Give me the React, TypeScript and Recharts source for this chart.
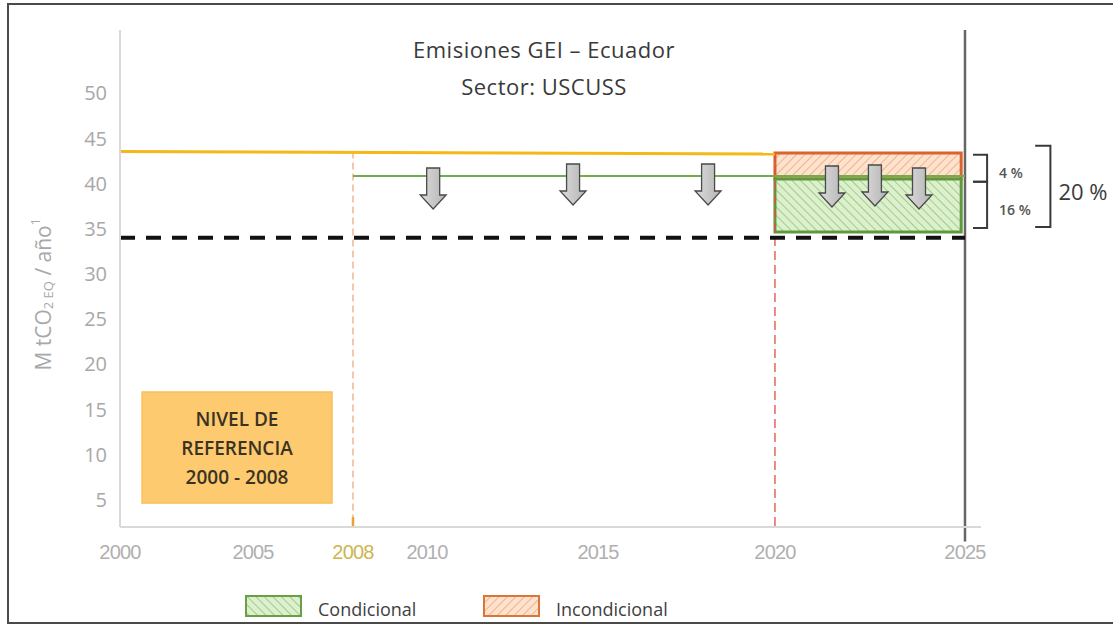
import React from 'react';
import {
  ComposedChart,
  XAxis,
  YAxis,
  Line,
  Scatter,
  ReferenceArea,
  ReferenceLine,
  Legend,
} from 'recharts';

// ---------- axes ----------
const X_TICKS = [2000, 2005, 2008, 2010, 2015, 2020, 2025];
const Y_TICKS = [5, 10, 15, 20, 25, 30, 35, 40, 45, 50];
const X_DOMAIN = [2000, 2025.42];
const Y_DOMAIN = [2, 57];
const HIGHLIGHT_TICK = 2008;

// The original drawing uses a hand-spaced (non-uniform) time axis.
const AXIS_KNOT_YEARS = [2000, 2005, 2008, 2010, 2015, 2020, 2025, 2025.42];
const AXIS_KNOT_FRACTIONS = [0, 0.1545, 0.2706, 0.3566, 0.5552, 0.7607, 0.9814, 1];

// ---------- series ----------
const referenceLevel = [
  { year: 2000, value: 43.55 },
  { year: 2020, value: 43.28 },
];
const projectedLevel = [
  { year: 2008, value: 40.84 },
  { year: 2025, value: 40.84 },
];
const targetLevel = [
  { year: 2000, value: 34.0 },
  { year: 2025, value: 34.0 },
];
const incondicionalBand = { from: 2020, to: 2024.9, low: 40.51, high: 43.39 };
const condicionalBand = { from: 2020, to: 2024.9, low: 34.64, high: 40.51 };
const reductionArrows = [
  { year: 2010.18, top: 41.73 },
  { year: 2014.27, top: 42.17 },
  { year: 2018.11, top: 42.17 },
  { year: 2021.5, top: 41.95 },
  { year: 2022.63, top: 42.06 },
  { year: 2023.79, top: 41.73 },
];
const MILESTONE_REF_END = 2008;
const MILESTONE_START = 2020;
const MILESTONE_END = 2025;

const referenceBoxLines = ['NIVEL DE', 'REFERENCIA', '2000 - 2008'];
const referenceBoxExtent = { from: 2000.83, to: 2007.37, low: 4.65, high: 16.94 };

const bracketLabels = ['4 %', '16 %', '20 %'];
const bracketLevels = [
  { top: 43.2, bottom: 40.2 },
  { top: 40.2, bottom: 35.1 },
  { top: 44.2, bottom: 35.2 },
];
const bracketYears = [
  { x1: 2025.21, x2: 2025.58 },
  { x1: 2025.21, x2: 2025.58 },
  { x1: 2026.84, x2: 2027.24 },
];

const TITLE_LINES = ['Emisiones GEI \u2013 Ecuador', 'Sector: USCUSS'];
const LEGEND_ITEMS = [
  { name: 'Condicional', pattern: 'hatchGreen', stroke: '#6a9f45' },
  { name: 'Incondicional', pattern: 'hatchOrange', stroke: '#d9773a' },
];

// ---------- custom piecewise scale ----------
function makeAxisScale(): any {
  let dom: number[] = [X_DOMAIN[0], X_DOMAIN[1]];
  let rng: number[] = [0, 1];
  const frac = (v: number) => {
    const ys = AXIS_KNOT_YEARS;
    const fs = AXIS_KNOT_FRACTIONS;
    const n = ys.length;
    let i = 0;
    if (v <= ys[0]) i = 0;
    else if (v >= ys[n - 1]) i = n - 2;
    else {
      while (i < n - 2 && v > ys[i + 1]) i++;
    }
    const t = (v - ys[i]) / (ys[i + 1] - ys[i]);
    return fs[i] + t * (fs[i + 1] - fs[i]);
  };
  const scale: any = (v: any) => rng[0] + frac(Number(v)) * (rng[1] - rng[0]);
  scale.domain = (d?: any) => {
    if (d === undefined) return dom.slice();
    dom = Array.from(d as number[]);
    return scale;
  };
  scale.range = (r?: any) => {
    if (r === undefined) return rng.slice();
    rng = Array.from(r as number[]);
    return scale;
  };
  scale.copy = () => {
    const s = makeAxisScale();
    s.domain(dom);
    s.range(rng);
    return s;
  };
  scale.ticks = () => X_TICKS.slice();
  scale.tickFormat = () => (v: any) => String(v);
  scale.invert = (px: number) => {
    const f = (px - rng[0]) / (rng[1] - rng[0]);
    const ys = AXIS_KNOT_YEARS;
    const fs = AXIS_KNOT_FRACTIONS;
    let i = 0;
    while (i < fs.length - 2 && f > fs[i + 1]) i++;
    return ys[i] + ((f - fs[i]) / (fs[i + 1] - fs[i])) * (ys[i + 1] - ys[i]);
  };
  return scale;
}
const xScale = makeAxisScale();

// ---------- renderers ----------
const XTick = (props: any) => {
  const { x, y, payload } = props;
  const hl = payload.value === HIGHLIGHT_TICK;
  return (
    <text
      x={x}
      y={y}
      dy={32}
      textAnchor="middle"
      fill={hl ? '#cdb552' : '#b0b0b0'}
      fontFamily="'Liberation Sans', Arial, sans-serif"
      fontSize={20}
      letterSpacing={-0.8}
    >
      {payload.value}
    </text>
  );
};

const YLabel = (props: any) => {
  const vb = props.viewBox || { x: 0, y: 30, width: 120, height: 497 };
  const cx = vb.x + 43;
  const cy = vb.y + vb.height / 2 + 16;
  return (
    <text
      x={cx}
      y={cy}
      transform={`rotate(-90 ${cx} ${cy})`}
      textAnchor="middle"
      dominantBaseline="central"
      fill="#a8a8a8"
      fontFamily="'Open Sans', sans-serif"
      fontSize={21}
    >
      M tCO
      <tspan fontSize={13} dy={5}>
        2 EQ
      </tspan>
      <tspan dy={-5}> / año</tspan>
      <tspan fontSize={12} dy={-8}>
        1
      </tspan>
    </text>
  );
};

const ArrowShape = (props: any) => {
  const { cx, cy } = props;
  if (cx == null || cy == null) return null;
  const L = 41;
  const sw = 6.5;
  const hw = 13;
  const hh = 14;
  const d = `M ${cx - sw} ${cy} H ${cx + sw} V ${cy + L - hh} H ${cx + hw} L ${cx} ${cy + L} L ${cx - hw} ${cy + L - hh} H ${cx - sw} Z`;
  return <path d={d} fill="url(#arrowGrad)" stroke="#4a4a4a" strokeWidth={1.3} strokeLinejoin="miter" />;
};

const ReferenceBoxShape = (props: any) => {
  const { x, y, width, height } = props;
  const cx = x + width / 2;
  const cy = y + height / 2;
  return (
    <g>
      <rect x={x} y={y} width={width} height={height} fill="#fdca70" stroke="#f7c059" strokeWidth={1.5} />
      {referenceBoxLines.map((line, i) => (
        <text
          key={line}
          x={cx}
          y={cy + (i - 1) * 29 + 7}
          textAnchor="middle"
          fill="#3b3322"
          fontFamily="'Open Sans', sans-serif"
          fontWeight={600}
          fontSize={19}
        >
          {line}
        </text>
      ))}
    </g>
  );
};

const makeBracketShape = (label: string, big: boolean) => (props: any) => {
  const { x, y, width, height } = props;
  const d = `M ${x} ${y} H ${x + width} V ${y + height} H ${x}`;
  return (
    <g>
      <path d={d} fill="none" stroke="#3a3a3a" strokeWidth={2} />
      <text
        x={x + width + (big ? 8 : 12)}
        y={y + height / 2 + (big ? 13.5 : 10)}
        fill={big ? '#3a3a3a' : '#555'}
        fontFamily="'Open Sans', sans-serif"
        fontWeight={big ? 400 : 600}
        fontSize={big ? 22 : 14}
      >
        {label}
      </text>
    </g>
  );
};

const LegendContent = () => (
  <div
    style={{
      display: 'flex',
      alignItems: 'center',
      fontFamily: "'Open Sans', sans-serif",
      fontSize: 18,
      color: '#404040',
      whiteSpace: 'nowrap',
    }}
  >
    {LEGEND_ITEMS.map((it, i) => (
      <div key={it.name} style={{ display: 'flex', alignItems: 'center', width: i === 0 ? 238 : 'auto' }}>
        <svg width={57} height={22} style={{ display: 'block' }}>
          <rect x={1} y={1} width={55} height={20} fill={`url(#${it.pattern})`} stroke={it.stroke} strokeWidth={2} />
        </svg>
        <span style={{ marginLeft: 16, paddingTop: 6 }}>{it.name}</span>
      </div>
    ))}
  </div>
);

export default function App() {
  return (
    <div
      style={{
        position: 'absolute',
        left: 0,
        top: 0,
        width: 1113,
        height: 626,
        overflow: 'hidden',
        background: '#fff',
        fontFamily: "'Open Sans', sans-serif",
      }}
    >
      <div
        style={{
          position: 'absolute',
          left: 7,
          top: 3,
          width: 1120,
          height: 621,
          border: '2px solid #4a4a4a',
          boxSizing: 'border-box',
        }}
      />
      <div
        style={{
          position: 'absolute',
          left: 0,
          top: 31,
          width: 1088,
          textAlign: 'center',
          fontSize: 22,
          lineHeight: '37px',
          letterSpacing: 0.5,
          color: '#3a3a3a',
          zIndex: 2,
        }}
      >
        {TITLE_LINES.map((t) => (
          <div key={t}>{t}</div>
        ))}
      </div>
      <div style={{ position: 'absolute', left: 0, top: 0 }}>
        <ComposedChart width={1113} height={626} margin={{ top: 30, right: 132, left: 0, bottom: 0 }}>
          <defs>
            <pattern id="hatchOrange" width="6" height="6" patternUnits="userSpaceOnUse" patternTransform="rotate(45)">
              <rect width="6" height="6" fill="#fde2cd" />
              <line x1="0" y1="0" x2="0" y2="6" stroke="#f0966a" strokeWidth="1.3" />
            </pattern>
            <pattern id="hatchGreen" width="6" height="6" patternUnits="userSpaceOnUse" patternTransform="rotate(-45)">
              <rect width="6" height="6" fill="#dcf0cd" />
              <line x1="0" y1="0" x2="0" y2="6" stroke="#7fb35f" strokeWidth="1.2" />
            </pattern>
            <linearGradient id="arrowGrad" x1="0" y1="0" x2="1" y2="0">
              <stop offset="0%" stopColor="#dcdcdc" />
              <stop offset="100%" stopColor="#b4b4b4" />
            </linearGradient>
          </defs>
          <XAxis
            type="number"
            dataKey="year"
            domain={X_DOMAIN}
            scale={xScale}
            ticks={X_TICKS}
            interval={0}
            tick={<XTick />}
            tickLine={false}
            tickSize={0}
            tickMargin={0}
            axisLine={{ stroke: '#d9d9d9', strokeWidth: 2 }}
            height={99}
          />
          <YAxis
            type="number"
            domain={Y_DOMAIN}
            ticks={Y_TICKS}
            interval={0}
            width={120}
            tickLine={false}
            tickSize={0}
            tickMargin={13}
            tick={{ fill: '#a8a8a8', fontSize: 20, fontFamily: "'Open Sans', sans-serif" }}
            axisLine={{ stroke: '#d9d9d9', strokeWidth: 2 }}
            label={<YLabel />}
          />

          <ReferenceArea
            x1={referenceBoxExtent.from}
            x2={referenceBoxExtent.to}
            y1={referenceBoxExtent.low}
            y2={referenceBoxExtent.high}
            shape={ReferenceBoxShape}
          />

          <ReferenceLine
            segment={[
              { x: MILESTONE_REF_END, y: referenceLevel[0].value },
              { x: MILESTONE_REF_END, y: Y_DOMAIN[0] },
            ]}
            stroke="#f2a27a"
            strokeWidth={1.2}
            strokeDasharray="7 4"
          />
          <ReferenceLine
            segment={[
              { x: MILESTONE_REF_END, y: Y_DOMAIN[0] },
              { x: MILESTONE_REF_END, y: Y_DOMAIN[0] + 1.1 },
            ]}
            stroke="#f0a030"
            strokeWidth={2.5}
          />
          <ReferenceLine
            segment={[
              { x: MILESTONE_START, y: incondicionalBand.high },
              { x: MILESTONE_START, y: Y_DOMAIN[0] },
            ]}
            stroke="#e64b3f"
            strokeWidth={1.3}
            strokeDasharray="9 5"
          />
          <ReferenceLine
            segment={[
              { x: MILESTONE_END, y: Y_DOMAIN[1] },
              { x: MILESTONE_END, y: 0.4 },
            ]}
            ifOverflow="visible"
            stroke="#666"
            strokeWidth={2.5}
          />

          <ReferenceArea
            x1={incondicionalBand.from}
            x2={incondicionalBand.to}
            y1={incondicionalBand.low}
            y2={incondicionalBand.high}
            fill="url(#hatchOrange)"
            fillOpacity={1}
            stroke="#d9652c"
            strokeWidth={3}
          />
          <ReferenceArea
            x1={condicionalBand.from}
            x2={condicionalBand.to}
            y1={condicionalBand.low}
            y2={condicionalBand.high}
            fill="url(#hatchGreen)"
            fillOpacity={1}
            stroke="#5e9a3c"
            strokeWidth={3}
          />

          {bracketLabels.map((label, i) => (
            <ReferenceArea
              key={label}
              x1={bracketYears[i].x1}
              x2={bracketYears[i].x2}
              y1={bracketLevels[i].bottom}
              y2={bracketLevels[i].top}
              ifOverflow="visible"
              shape={makeBracketShape(label, i === 2)}
            />
          ))}

          <Line
            data={targetLevel}
            dataKey="value"
            stroke="#111"
            strokeWidth={4}
            strokeDasharray="15 11"
            dot={false}
            activeDot={false}
            isAnimationActive={false}
          />
          <Line
            data={referenceLevel}
            dataKey="value"
            stroke="#f6b817"
            strokeWidth={3}
            dot={false}
            activeDot={false}
            isAnimationActive={false}
          />
          <Line
            data={projectedLevel}
            dataKey="value"
            stroke="#72ad4b"
            strokeWidth={2}
            dot={false}
            activeDot={false}
            isAnimationActive={false}
          />
          <Scatter data={reductionArrows} dataKey="top" shape={ArrowShape} isAnimationActive={false} />

          <Legend
            layout="horizontal"
            verticalAlign="middle"
            align="center"
            content={LegendContent}
            wrapperStyle={{ position: 'absolute', left: 245, top: 591, width: 520, height: 26 }}
          />
        </ComposedChart>
      </div>
    </div>
  );
}
